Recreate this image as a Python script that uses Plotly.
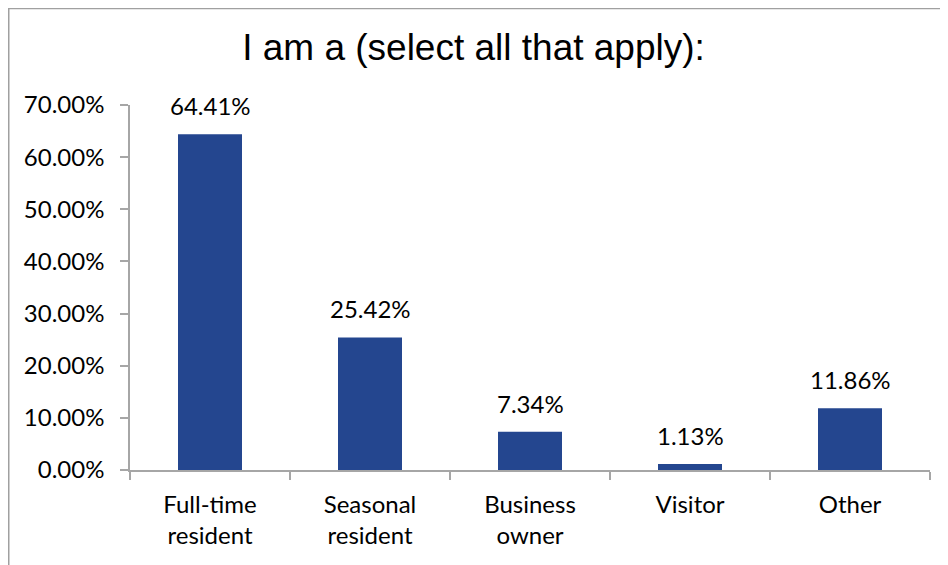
import plotly.graph_objects as go

categories = ["Full-time<br>resident", "Seasonal<br>resident", "Business<br>owner", "Visitor", "Other"]
values = [64.41, 25.42, 7.34, 1.13, 11.86]
value_labels = ["64.41%", "25.42%", "7.34%", "1.13%", "11.86%"]
y_ticks = [0, 10, 20, 30, 40, 50, 60, 70]
y_tick_labels = ["0.00%", "10.00%", "20.00%", "30.00%", "40.00%", "50.00%", "60.00%", "70.00%"]
title_text = "I am a (select all that apply):"

# page body has an 8px margin, so figure pixel = screen pixel - 8
W, H = 948, 565
L, R, T, B = 122, 26, 97, 103
pw, ph = W - L - R, H - T - B

def px_x(x):
    return (x - L) / pw

def px_y(y):
    return (H - B - y) / ph

tick_font = dict(family="Lato, 'Noto Sans', sans-serif", size=24, color="#000000")
axis_color = "#a6a6a6"

fig = go.Figure()
fig.add_trace(go.Bar(x=categories, y=values, marker=dict(color="#24468F", line=dict(width=0)),
                     hoverinfo="skip"))

for c, v, t in zip(categories, values, value_labels):
    fig.add_annotation(x=c, y=v, text=t, showarrow=False, yanchor="bottom",
                       yshift=12, font=tick_font)

fig.update_layout(
    width=W, height=H,
    margin=dict(l=L, r=R, t=T, b=B, autoexpand=False),
    paper_bgcolor="white", plot_bgcolor="white",
    bargap=0.6, showlegend=False,
    title=dict(text=title_text, x=px_x((241 + 706) / 2 - 8), xanchor="center", xref="paper",
               y=1 - 39 / H, yanchor="middle", yref="container",
               font=dict(family="Liberation Sans, Arial, sans-serif", size=37, color="#000000")),
    xaxis=dict(showline=True, linecolor=axis_color, linewidth=1.5, ticks="outside",
               tickson="boundaries", ticklen=8, tickcolor=axis_color, tickwidth=1.5,
               tickfont=tick_font, showgrid=False, zeroline=False, fixedrange=True,
               ticklabelstandoff=12),
    yaxis=dict(range=[0, 70], tickvals=y_ticks, ticktext=y_tick_labels,
               showline=True, linecolor=axis_color, linewidth=1.5, ticks="outside",
               ticklen=8, tickcolor=axis_color, tickwidth=1.5, tickfont=tick_font,
               showgrid=False, zeroline=False, ticklabelstandoff=11, fixedrange=True),
    shapes=[
        dict(type="line", xref="paper", yref="paper", x0=px_x(0.75), x1=px_x(0.75),
             y0=px_y(0), y1=px_y(H + 5), line=dict(color="#a0a0a0", width=1.5)),
        dict(type="line", xref="paper", yref="paper", x0=px_x(0), x1=px_x(W + 5),
             y0=px_y(0.5), y1=px_y(0.5), line=dict(color="#a0a0a0", width=1.5)),
    ],
)

fig.write_html("out.html")
